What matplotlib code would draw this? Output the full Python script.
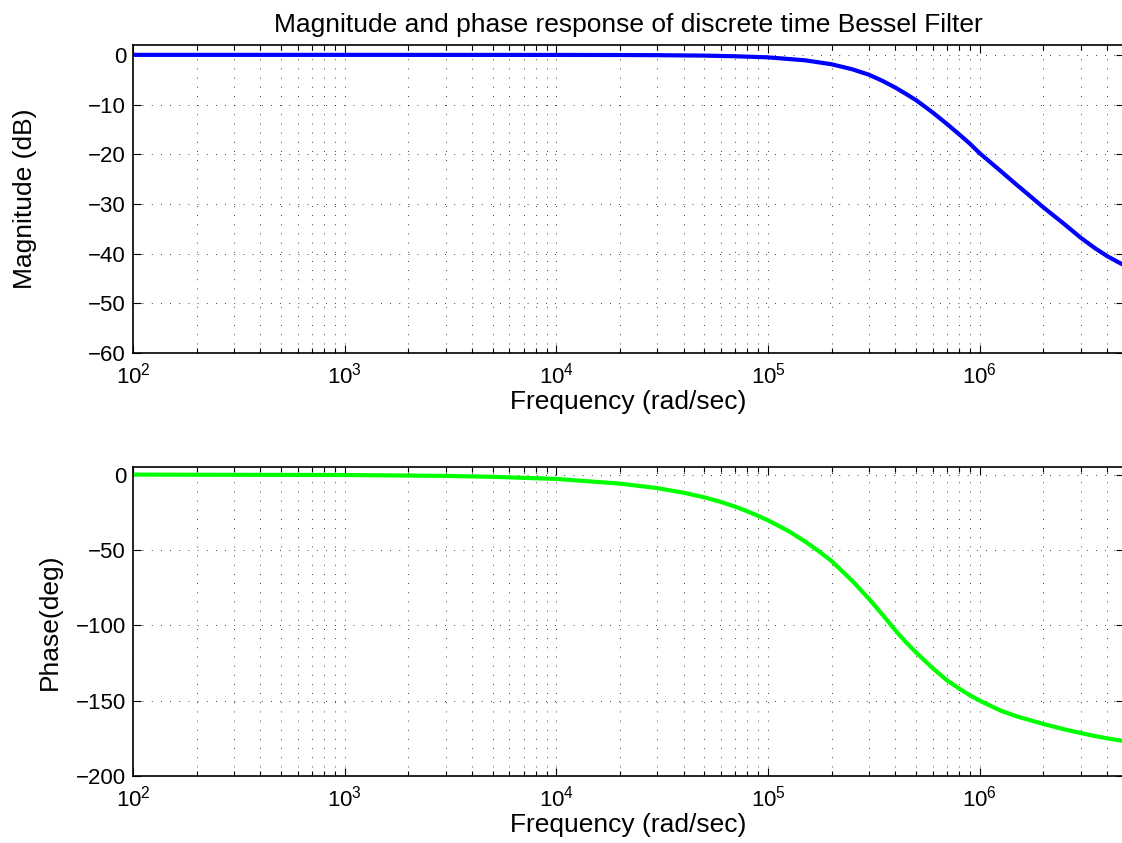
import numpy as np
import matplotlib.pyplot as plt

plt.rcParams['font.family'] = ['Liberation Sans', 'DejaVu Sans']
plt.rcParams['mathtext.fontset'] = 'custom'
plt.rcParams['mathtext.rm'] = 'Liberation Sans'
plt.rcParams['mathtext.it'] = 'Liberation Sans'

# magnitude response (dB)
mag_freq = [1e2, 1e3, 1e4, 2e4, 3e4, 5e4, 7e4, 1e5, 1.5e5, 2e5, 2.5e5, 3e5, 3.5e5,
            4e5, 4.5e5, 5e5, 6e5, 7e5, 8e5, 9e5, 1e6, 1.25e6, 1.5e6, 1.75e6, 2e6,
            2.5e6, 3e6, 3.5e6, 4e6, 4.5e6, 4.8e6]
mag_db = [0, 0, -0.01, -0.03, -0.06, -0.15, -0.28, -0.5, -1.1, -1.9, -2.9, -4.0,
          -5.3, -6.6, -7.9, -9.1, -11.6, -13.9, -16.0, -17.9, -19.8, -23.3, -26.2,
          -28.6, -30.7, -34.0, -36.8, -38.9, -40.5, -41.7, -42.3]

# phase response (deg)
ph_freq = [1e2, 1e3, 3e3, 5e3, 1e4, 2e4, 3e4, 4e4, 5e4, 6e4, 7e4, 8e4, 9e4, 1e5,
           1.25e5, 1.5e5, 1.75e5, 2e5, 2.5e5, 3e5, 3.5e5, 4e5, 4.5e5, 5e5, 6e5,
           7e5, 8e5, 9e5, 1e6, 1.25e6, 1.5e6, 2e6, 2.5e6, 3e6, 3.5e6, 4e6, 4.5e6,
           4.8e6]
ph_deg = [-0.03, -0.3, -0.9, -1.5, -2.9, -6.0, -9.0, -12.1, -15.1, -18.2, -21.3,
          -24.4, -27.5, -30.4, -37.5, -44.5, -51.2, -57.5, -70.5, -82.5, -93.5,
          -103.5, -111.5, -118.0, -128.5, -136.5, -142.0, -146.5, -150.0, -156.5,
          -160.5, -165.5, -169.0, -171.5, -173.5, -175.0, -176.2, -176.8]

x_max = 4.8e6

fig = plt.figure(figsize=(11.22, 8.43), dpi=100)
# right edge of the axes sits just past the canvas, as in the original
ax1 = fig.add_axes([0.1185, 0.5813, 0.8832, 0.3654])
ax2 = fig.add_axes([0.1185, 0.0795, 0.8832, 0.3665])


def style(ax):
    ax.set_xscale('log')
    ax.set_xlim(1e2, x_max)
    ax.grid(True, which='major', axis='both', color='k', linestyle=(0, (1, 10)), linewidth=0.6)
    ax.grid(True, which='minor', axis='x', color='k', linestyle=(0, (1, 10)), linewidth=0.6)
    ax.tick_params(which='both', direction='in', top=True, right=True, labelsize=16)
    ax.tick_params(axis='x', pad=7)
    ax.tick_params(axis='y', pad=5)
    ax.tick_params(which='major', length=6, width=0.8)
    ax.tick_params(which='minor', length=3.5, width=0.8)
    for s in ax.spines.values():
        s.set_linewidth(1.2)
    ax.set_xlabel('Frequency (rad/sec)', fontsize=19, labelpad=1)


ax1.plot(mag_freq, mag_db, color=(0, 0, 1), linewidth=3)
style(ax1)
ax1.set_ylim(-60, 2)
ax1.set_yticks(np.arange(-60, 1, 10))
ax1.set_ylabel('Magnitude (dB)', fontsize=19, va='center')
ax1.yaxis.set_label_coords(-0.109, 0.5)
ax1.set_title('Magnitude and phase response of discrete time Bessel Filter', fontsize=19, pad=9)

ax2.plot(ph_freq, ph_deg, color=(0, 1, 0), linewidth=3)
style(ax2)
ax2.set_ylim(-200, 5)
ax2.set_yticks(np.arange(-200, 1, 50))
ax2.set_ylabel('Phase(deg)', fontsize=19, va='center')
ax2.yaxis.set_label_coords(-0.084, 0.5)

fig.savefig('out.png', dpi=100)
